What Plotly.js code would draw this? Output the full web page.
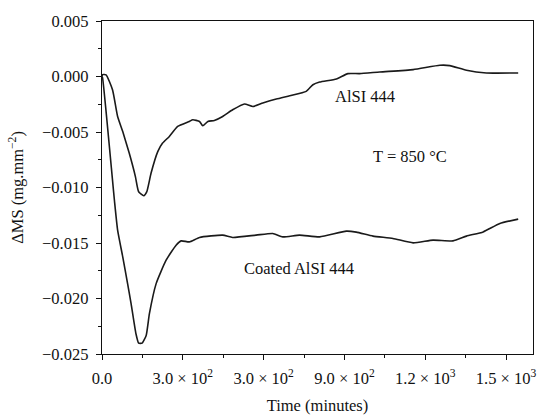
<!DOCTYPE html>
<html>
<head>
<meta charset="utf-8">
<script src="https://cdn.plot.ly/plotly-3.0.1.min.js"></script>
<style>html,body{margin:0;padding:0;background:#fff;}#chart{width:541px;height:415px;}</style>
</head>
<body>
<div id="chart"></div>
<script>
const aisiX = [0, 2, 15, 39, 58, 77, 101, 124, 136, 155, 166, 182, 207, 225, 250, 281, 324, 337, 362, 374, 393, 417, 448, 485, 529, 560, 597, 647, 697, 758, 783, 808, 870, 913, 956, 1031, 1155, 1254, 1291, 1353, 1427, 1545];
const aisiY = [0.0, 0.00017, 0.00015, -0.00119, -0.0036, -0.00496, -0.0069, -0.00902, -0.01038, -0.01074, -0.0104, -0.00872, -0.00677, -0.006, -0.0054, -0.0045, -0.00405, -0.0039, -0.00405, -0.00444, -0.00405, -0.00396, -0.0036, -0.003, -0.00248, -0.0027, -0.00239, -0.00203, -0.00173, -0.00134, -0.00074, -0.0005, -0.00022, 0.00026, 0.00026, 0.00041, 0.00062, 0.00101, 0.00098, 0.00056, 0.00032, 0.00032];

const coatedX = [0, 2, 46, 58, 77, 95, 108, 126, 136, 149, 164, 176, 201, 238, 275, 294, 324, 362, 448, 485, 572, 634, 671, 733, 808, 907, 944, 1006, 1080, 1155, 1229, 1303, 1353, 1415, 1477, 1545];
const coatedY = [0.0, -0.0001, -0.01113, -0.01384, -0.01625, -0.01866, -0.02046, -0.02317, -0.02402, -0.02402, -0.02333, -0.02137, -0.01866, -0.01655, -0.0152, -0.01481, -0.0149, -0.0145, -0.01429, -0.0145, -0.01429, -0.01414, -0.01445, -0.01429, -0.01445, -0.01393, -0.01402, -0.01438, -0.01459, -0.01499, -0.01474, -0.01481, -0.01438, -0.014, -0.01324, -0.01285];

const xTickVals = [0, 300, 600, 900, 1200, 1500];
const xTickText = ["0.0", "3.0 × 10<sup>2</sup>", "3.0 × 10<sup>2</sup>", "9.0 × 10<sup>2</sup>", "1.2 × 10<sup>3</sup>", "1.5 × 10<sup>3</sup>"];

const labels = ["AlSI 444", "T = 850 °C", "Coated AlSI 444"];
const labelX = [975, 1142, 733];
const labelY = [-0.00182, -0.00724, -0.01727];

const font = {family: "'Liberation Serif', 'Times New Roman', serif", size: 16.5, color: "#111"};
const lineStyle = {color: "#1a1a1a", width: 1.6, shape: "spline", smoothing: 0.5};

const data = [
  {x: aisiX, y: aisiY, type: "scatter", mode: "lines", line: lineStyle, hoverinfo: "skip"},
  {x: coatedX, y: coatedY, type: "scatter", mode: "lines", line: lineStyle, hoverinfo: "skip"}
];

const layout = {
  width: 541, height: 415,
  margin: {l: 102, r: 8, t: 21, b: 61},
  paper_bgcolor: "#fff", plot_bgcolor: "#fff",
  showlegend: false,
  font: font,
  xaxis: {
    range: [0, 1600], tickvals: xTickVals, ticktext: xTickText,
    ticks: "outside", ticklen: 5, tickwidth: 1, tickcolor: "#111",
    minor: {dtick: 150, tick0: 150, ticks: "outside", ticklen: 3, tickcolor: "#111", showgrid: false},
    showline: true, linecolor: "#111", linewidth: 1.2, mirror: true,
    showgrid: false, zeroline: false,
    tickfont: font, ticklabelstandoff: 4,
    title: {text: "Time (minutes)", font: font, standoff: 17}
  },
  yaxis: {
    range: [-0.025, 0.005], dtick: 0.005, tick0: 0, tickformat: ".3f",
    ticks: "outside", ticklen: 5, tickwidth: 1, tickcolor: "#111",
    minor: {dtick: 0.0025, ticks: "outside", ticklen: 3, tickcolor: "#111", showgrid: false},
    showline: true, linecolor: "#111", linewidth: 1.2, mirror: true,
    showgrid: false, zeroline: false,
    tickfont: font, ticklabelstandoff: 4,
    title: {text: "ΔMS (mg.mm<sup>−2</sup>)", font: font, standoff: 14}
  },
  annotations: labels.map((t, i) => ({
    x: labelX[i], y: labelY[i], xref: "x", yref: "y", text: t, showarrow: false, font: font
  }))
};

Plotly.newPlot("chart", data, layout, {staticPlot: true});
</script>
</body>
</html>
